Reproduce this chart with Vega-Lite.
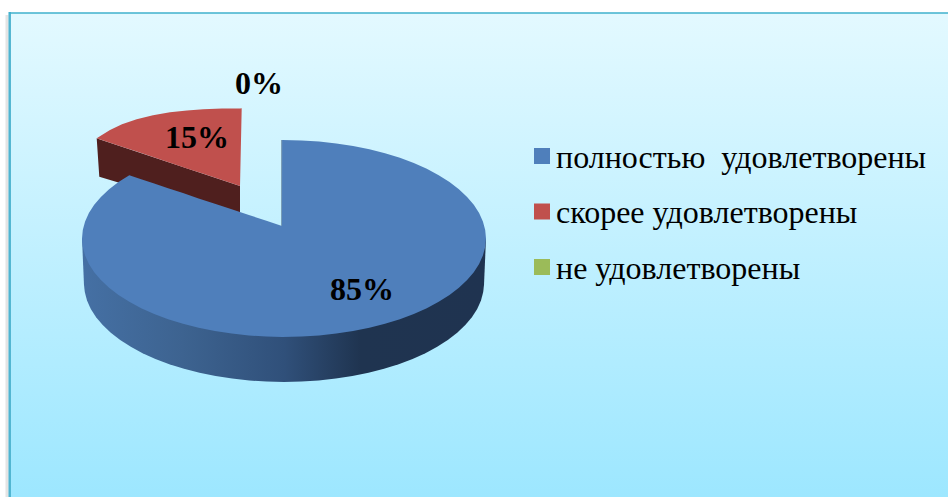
{
"$schema":"https://vega.github.io/schema/vega-lite/v6.json",
"width":948,"height":497,"padding":0,
"autosize":{"type":"none"},
"background":"white",
"config":{"view":{"stroke":null},"font":"Liberation Serif"},
"datasets":{
"panel":[{"x":9,"x2":948,"y":13,"y2":497}],
"shadow":[{"x":7,"y":15,"y2":497}],
"frameLeft":[{"x":9.7,"y":12,"y2":497}],
"frameTop":[{"x":9,"x2":948,"y":13}],
"side":[
{"x":82,"y":238.5,"y2":238.5},{"x":84,"y":285,"y2":238.5},{"x":84.8,"y":292.1,"y2":238.5},{"x":87,"y":300.6,"y2":238.5},{"x":90.8,"y":309,"y2":238.5},{"x":96.1,"y":317.2,"y2":238.5},{"x":102.7,"y":325.1,"y2":238.5},{"x":110.8,"y":332.75,"y2":238.5},{"x":120.2,"y":340,"y2":238.5},{"x":130.8,"y":346.8,"y2":238.5},{"x":142.6,"y":353.15,"y2":238.5},{"x":155.4,"y":359,"y2":238.5},{"x":169.3,"y":364.2,"y2":238.5},{"x":184,"y":368.8,"y2":238.5},{"x":199.5,"y":372.8,"y2":238.5},{"x":215.6,"y":376.1,"y2":238.5},{"x":232.2,"y":378.6,"y2":238.5},{"x":249.3,"y":380.5,"y2":238.5},{"x":266.6,"y":381.6,"y2":238.5},{"x":284,"y":382,"y2":238.5},{"x":301.4,"y":381.6,"y2":238.5},{"x":318.7,"y":380.5,"y2":238.5},{"x":335.8,"y":378.6,"y2":238.5},{"x":352.4,"y":376.1,"y2":238.5},{"x":368.5,"y":372.8,"y2":238.5},{"x":384,"y":368.8,"y2":238.5},{"x":398.7,"y":364.2,"y2":238.5},{"x":412.6,"y":359,"y2":238.5},{"x":425.4,"y":353.15,"y2":238.5},{"x":437.2,"y":346.8,"y2":238.5},{"x":447.8,"y":340,"y2":238.5},{"x":457.2,"y":332.75,"y2":238.5},{"x":465.3,"y":325.1,"y2":238.5},{"x":471.9,"y":317.2,"y2":238.5},{"x":477.2,"y":309,"y2":238.5},{"x":481,"y":300.6,"y2":238.5},{"x":483.2,"y":292.1,"y2":238.5},{"x":484,"y":285,"y2":238.5},{"x":486,"y":238.5,"y2":238.5}
],
"wall":[{"x":96.7,"y":138.3,"y2":138.3},{"x":99.3,"y":139.2,"y2":176.7},{"x":240,"y":186,"y2":218.9}],
"notch":[{"x":282,"y":140},{"x":282,"y":226}],
"faces":[
{"c":"полностью \u00a0удовлетворены","x":82,"y":238.5,"y2":238.5},
{"c":"полностью \u00a0удовлетворены","x":82.8,"y":229.9,"y2":247.1},
{"c":"полностью \u00a0удовлетворены","x":85.1,"y":221.4,"y2":255.6},
{"c":"полностью \u00a0удовлетворены","x":88.9,"y":213,"y2":264},
{"c":"полностью \u00a0удовлетворены","x":94.2,"y":204.8,"y2":272.2},
{"c":"полностью \u00a0удовлетворены","x":100.9,"y":196.9,"y2":280.1},
{"c":"полностью \u00a0удовлетворены","x":109.1,"y":189.25,"y2":287.75},
{"c":"полностью \u00a0удовлетворены","x":118.5,"y":182,"y2":295},
{"c":"полностью \u00a0удовлетворены","x":129.3,"y":175.2,"y2":301.8},
{"c":"полностью \u00a0удовлетворены","x":141.2,"y":179.2,"y2":308.15},
{"c":"полностью \u00a0удовлетворены","x":154.2,"y":183.5,"y2":314},
{"c":"полностью \u00a0удовлетворены","x":168.1,"y":188.2,"y2":319.2},
{"c":"полностью \u00a0удовлетворены","x":183,"y":193.1,"y2":323.8},
{"c":"полностью \u00a0удовлетворены","x":198.6,"y":198.4,"y2":327.8},
{"c":"полностью \u00a0удовлетворены","x":214.9,"y":203.7,"y2":331.1},
{"c":"полностью \u00a0удовлетворены","x":231.7,"y":209.3,"y2":333.6},
{"c":"полностью \u00a0удовлетворены","x":248.9,"y":215,"y2":335.5},
{"c":"полностью \u00a0удовлетворены","x":266.4,"y":220.8,"y2":336.6},
{"c":"полностью \u00a0удовлетворены","x":282,"y":226,"y2":337},
{"c":"полностью \u00a0удовлетворены","x":282.2,"y":140,"y2":337},
{"c":"полностью \u00a0удовлетворены","x":301.6,"y":140.4,"y2":336.6},
{"c":"полностью \u00a0удовлетворены","x":319.1,"y":141.5,"y2":335.5},
{"c":"полностью \u00a0удовлетворены","x":336.3,"y":143.4,"y2":333.6},
{"c":"полностью \u00a0удовлетворены","x":353.1,"y":145.9,"y2":331.1},
{"c":"полностью \u00a0удовлетворены","x":369.4,"y":149.2,"y2":327.8},
{"c":"полностью \u00a0удовлетворены","x":385,"y":153.2,"y2":323.8},
{"c":"полностью \u00a0удовлетворены","x":399.9,"y":157.8,"y2":319.2},
{"c":"полностью \u00a0удовлетворены","x":413.8,"y":163,"y2":314},
{"c":"полностью \u00a0удовлетворены","x":426.8,"y":168.85,"y2":308.15},
{"c":"полностью \u00a0удовлетворены","x":438.7,"y":175.2,"y2":301.8},
{"c":"полностью \u00a0удовлетворены","x":449.5,"y":182,"y2":295},
{"c":"полностью \u00a0удовлетворены","x":458.9,"y":189.25,"y2":287.75},
{"c":"полностью \u00a0удовлетворены","x":467.1,"y":196.9,"y2":280.1},
{"c":"полностью \u00a0удовлетворены","x":473.8,"y":204.8,"y2":272.2},
{"c":"полностью \u00a0удовлетворены","x":479.1,"y":213,"y2":264},
{"c":"полностью \u00a0удовлетворены","x":482.9,"y":221.4,"y2":255.6},
{"c":"полностью \u00a0удовлетворены","x":485.2,"y":229.9,"y2":247.1},
{"c":"полностью \u00a0удовлетворены","x":486,"y":238.5,"y2":238.5},
{"c":"скорее удовлетворены","x":96.7,"y":138.3,"y2":138.3},
{"c":"скорее удовлетворены","x":110,"y":130,"y2":142.7},
{"c":"скорее удовлетворены","x":122,"y":124.3,"y2":146.7},
{"c":"скорее удовлетворены","x":136.7,"y":119.3,"y2":151.6},
{"c":"скорее удовлетворены","x":153,"y":115.3,"y2":157},
{"c":"скорее удовлетворены","x":170,"y":112.3,"y2":162.7},
{"c":"скорее удовлетворены","x":187,"y":110.4,"y2":168.4},
{"c":"скорее удовлетворены","x":203.3,"y":109.3,"y2":173.8},
{"c":"скорее удовлетворены","x":222,"y":108.6,"y2":180},
{"c":"скорее удовлетворены","x":240,"y":108.4,"y2":186},
{"c":"скорее удовлетворены","x":241.7,"y":108.3,"y2":108.4},
{"c":"не удовлетворены","x":283,"y":140,"y2":140},
{"c":"не удовлетворены","x":283.1,"y":140,"y2":140}
],
"labels":[{"x":362,"y":290,"t":"85%"},{"x":197,"y":138,"t":"15%"},{"x":259,"y":84,"t":"0%"}]
},
"layer":[
{"data":{"name":"panel"},
 "mark":{"type":"rect","fill":{"gradient":"linear","x1":0,"y1":0,"x2":0,"y2":1,"stops":[{"offset":0,"color":"#e3f9ff"},{"offset":1,"color":"#9de7ff"}]}},
 "encoding":{"x":{"field":"x","type":"quantitative","scale":{"domain":[0,948],"nice":false,"zero":false},"axis":null},"x2":{"field":"x2"},"y":{"field":"y","type":"quantitative","scale":{"domain":[497,0],"nice":false,"zero":false},"axis":null},"y2":{"field":"y2"}}},
{"data":{"name":"shadow"},
 "mark":{"type":"rule","stroke":"#e4e4e4","strokeWidth":3},
 "encoding":{"x":{"field":"x","type":"quantitative"},"y":{"field":"y","type":"quantitative"},"y2":{"field":"y2"}}},
{"data":{"name":"frameLeft"},
 "mark":{"type":"rule","stroke":"#4fb4d0","strokeWidth":2.5},
 "encoding":{"x":{"field":"x","type":"quantitative"},"y":{"field":"y","type":"quantitative"},"y2":{"field":"y2"}}},
{"data":{"name":"frameTop"},
 "mark":{"type":"rule","stroke":"#3fb0cc","strokeWidth":1.5},
 "encoding":{"x":{"field":"x","type":"quantitative"},"x2":{"field":"x2"},"y":{"field":"y","type":"quantitative"}}},
{"data":{"name":"side"},
 "mark":{"type":"area","fill":{"gradient":"linear","x1":0,"y1":0,"x2":1,"y2":0,"stops":[{"offset":0,"color":"#4570a4"},{"offset":0.25,"color":"#3d6390"},{"offset":0.5,"color":"#30507a"},{"offset":0.69,"color":"#1f3450"},{"offset":1,"color":"#1f3350"}]}},
 "encoding":{"x":{"field":"x","type":"quantitative"},"y":{"field":"y","type":"quantitative","stack":null},"y2":{"field":"y2"}}},
{"data":{"name":"wall"},
 "mark":{"type":"area","fill":"#4f1f1e"},
 "encoding":{"x":{"field":"x","type":"quantitative"},"y":{"field":"y","type":"quantitative","stack":null},"y2":{"field":"y2"}}},
{"data":{"name":"notch"},
 "mark":{"type":"line","stroke":"#2c4a6e","strokeWidth":1},
 "encoding":{"x":{"field":"x","type":"quantitative"},"y":{"field":"y","type":"quantitative"}}},
{"data":{"name":"faces"},
 "mark":{"type":"area","orient":"vertical"},
 "encoding":{
  "x":{"field":"x","type":"quantitative","stack":null},
  "y":{"field":"y","type":"quantitative","stack":null},
  "y2":{"field":"y2"},
  "color":{"field":"c","type":"nominal","sort":null,
   "scale":{"domain":["полностью \u00a0удовлетворены","скорее удовлетворены","не удовлетворены"],"range":["#4f7fbb","#c0504d","#9bbb59"]},
   "legend":{"title":null,"orient":"none","legendX":526,"legendY":140,"symbolType":"square","symbolSize":256,"symbolStrokeWidth":0,"symbolOpacity":1,"labelFont":"Liberation Serif","labelFontSize":32,"labelColor":"#000000","labelOffset":-2,"labelLimit":420,"rowPadding":21.5,"columnPadding":0,"encode":{"labels":{"update":{"dy":{"value":1.5}}}}}}}},
{"data":{"name":"labels"},
 "mark":{"type":"text","font":"Liberation Serif","fontWeight":"bold","fontSize":32,"color":"#000000","baseline":"middle","align":"center"},
 "encoding":{"x":{"field":"x","type":"quantitative"},"y":{"field":"y","type":"quantitative"},"text":{"field":"t","type":"nominal"}}}
]
}
